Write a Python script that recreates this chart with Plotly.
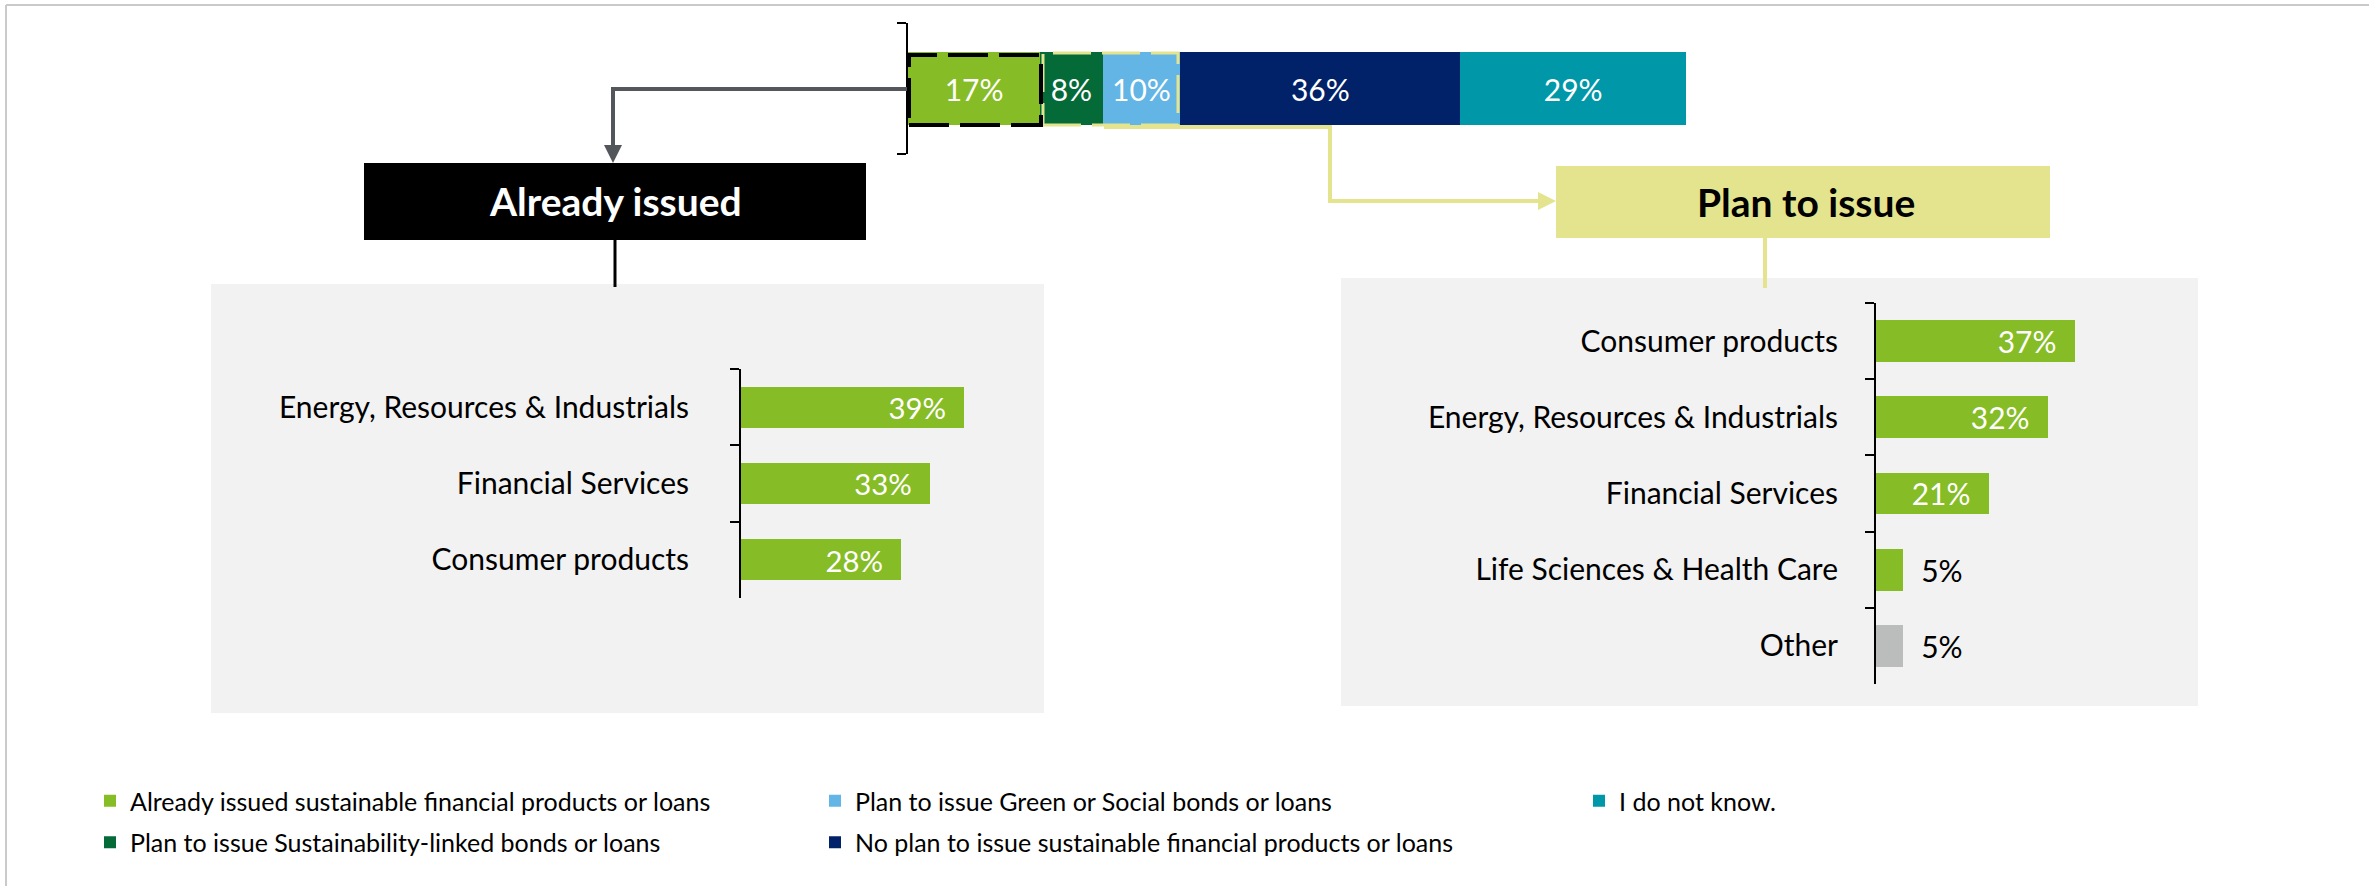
import plotly.graph_objects as go

W, H = 2369, 886

# top stacked bar: all respondents
segment_names = [
    "Already issued sustainable financial products or loans",
    "Plan to issue Sustainability-linked bonds or loans",
    "Plan to issue Green or Social bonds or loans",
    "No plan to issue sustainable financial products or loans",
    "I do not know.",
]
segment_values = [17, 8, 10, 36, 29]

# sectors of those who already issued
issued_sectors = ["Energy, Resources & Industrials", "Financial Services", "Consumer products"]
issued_values = [39, 33, 28]

# sectors of those who plan to issue
plan_sectors = ["Consumer products", "Energy, Resources & Industrials", "Financial Services",
                "Life Sciences & Health Care", "Other"]
plan_values = [37, 32, 21, 5, 5]

GREEN = "#86BC25"
segment_colors = [GREEN, "#046A38", "#62B5E5", "#012169", "#0097A9"]
segment_legends = ["legend", "legend", "legend2", "legend2", "legend3"]
OTHER_GRAY = "#BBBCBC"
PANEL = "#F2F2F2"
YELLOW = "#E3E48D"
ARROW_GRAY = "#53565A"
FONT = "Lato, Carlito, Calibri, sans-serif"
LABEL_SIZE = 30


def px(x):
    return x / W


def py(y):
    return 1 - y / H


def path(points):
    return "M " + " L ".join(f"{px(x)},{py(y)}" for x, y in points)


def bar_text(values):
    templates = []
    positions = []
    for v in values:
        if v >= 10:
            templates.append("%{x}%\u00a0\u00a0")
            positions.append("inside")
        else:
            templates.append("\u00a0\u00a0%{x}%")
            positions.append("outside")
    return templates, positions


fig = go.Figure()

for name, val, color, leg in zip(segment_names, segment_values, segment_colors, segment_legends):
    fig.add_trace(go.Bar(
        x=[val], y=["All"], orientation="h", name=name,
        marker=dict(color=color, line=dict(width=0)), width=0.55,
        text=[f"{val}%"], textposition="inside", insidetextanchor="middle",
        textfont=dict(color="white", size=LABEL_SIZE, family=FONT),
        xaxis="x", yaxis="y", legend=leg, legendgroup=name,
        hovertemplate=name + ": %{x}%<extra></extra>",
    ))

tpl, pos = bar_text(issued_values)
fig.add_trace(go.Bar(
    x=issued_values, y=issued_sectors, orientation="h", width=0.54,
    marker=dict(color=GREEN, line=dict(width=0)),
    texttemplate=tpl, textposition=pos, insidetextanchor="end",
    insidetextfont=dict(color="white", size=LABEL_SIZE, family=FONT),
    outsidetextfont=dict(color="black", size=LABEL_SIZE, family=FONT),
    xaxis="x2", yaxis="y2", showlegend=False, cliponaxis=False,
    hovertemplate="%{y}: %{x}%<extra>Already issued</extra>",
))

tpl, pos = bar_text(plan_values)
fig.add_trace(go.Bar(
    x=plan_values, y=plan_sectors, orientation="h", width=0.55,
    marker=dict(color=[OTHER_GRAY if s == "Other" else GREEN for s in plan_sectors], line=dict(width=0)),
    texttemplate=tpl, textposition=pos, insidetextanchor="end",
    insidetextfont=dict(color="white", size=LABEL_SIZE, family=FONT),
    outsidetextfont=dict(color="black", size=LABEL_SIZE, family=FONT),
    xaxis="x3", yaxis="y3", showlegend=False, cliponaxis=False,
    hovertemplate="%{y}: %{x}%<extra>Plan to issue</extra>",
))

bracket = dict(type="category", showline=True, linecolor="black", linewidth=2,
               ticks="outside", tickson="boundaries", ticklen=9, tickwidth=2, tickcolor="black",
               showgrid=False, zeroline=False, fixedrange=True,
               tickfont=dict(size=LABEL_SIZE, color="black", family=FONT))

fig.update_layout(
    width=W, height=H, margin=dict(l=0, r=0, t=0, b=0),
    paper_bgcolor="white", plot_bgcolor="rgba(0,0,0,0)",
    barmode="stack", font=dict(family=FONT, color="black"),
    xaxis=dict(domain=[px(908), px(1686)], range=[0, 100], visible=False, anchor="y", fixedrange=True),
    yaxis=dict(bracket, domain=[py(154), py(23)], range=[-0.5, 0.5], showticklabels=False, anchor="x"),
    xaxis2=dict(domain=[px(741), px(1027)], range=[0, 50], visible=False, anchor="y2", fixedrange=True),
    yaxis2=dict(bracket, domain=[py(598), py(369)], range=[2.5, -0.5],
                categoryarray=issued_sectors, ticklabelstandoff=44, anchor="x2"),
    xaxis3=dict(domain=[px(1876), px(2144.5)], range=[0, 50], visible=False, anchor="y3", fixedrange=True),
    yaxis3=dict(bracket, domain=[py(684), py(303)], range=[4.5, -0.5],
                categoryarray=plan_sectors, ticklabelstandoff=30, anchor="x3"),
    showlegend=True,
)

legend_style = dict(xanchor="left", yanchor="top", y=py(778), bgcolor="rgba(0,0,0,0)",
                    font=dict(size=25, family=FONT, color="black"), tracegroupgap=6,
                    traceorder="grouped")
fig.update_layout(
    legend=dict(legend_style, x=px(90)),
    legend2=dict(legend_style, x=px(815)),
    legend3=dict(legend_style, x=px(1579)),
)

P = dict(xref="paper", yref="paper")
shapes = [
    # frame lines
    dict(P, type="line", x0=px(6), x1=1, y0=py(5), y1=py(5), line=dict(color="#CACACA", width=2)),
    dict(P, type="line", x0=px(6), x1=px(6), y0=py(5), y1=0, line=dict(color="#CACACA", width=2)),
    # panels
    dict(P, type="rect", x0=px(211), x1=px(1044), y0=py(713), y1=py(284), fillcolor=PANEL,
         line=dict(width=0), layer="below"),
    dict(P, type="rect", x0=px(1341), x1=px(2198), y0=py(706), y1=py(278), fillcolor=PANEL,
         line=dict(width=0), layer="below"),
    # header boxes
    dict(P, type="rect", x0=px(364), x1=px(866), y0=py(240), y1=py(163), fillcolor="black", line=dict(width=0)),
    dict(P, type="rect", x0=px(1556), x1=px(2050), y0=py(238), y1=py(166), fillcolor=YELLOW, line=dict(width=0)),
    # connectors into panels
    dict(P, type="line", x0=px(615), x1=px(615), y0=py(240), y1=py(287), line=dict(color="black", width=3)),
    dict(P, type="line", x0=px(1765), x1=px(1765), y0=py(238), y1=py(288), line=dict(color=YELLOW, width=4)),
    # arrow bodies
    dict(P, type="path", path=path([(908, 89), (613, 89), (613, 152)]), line=dict(color=ARROW_GRAY, width=4)),
    dict(P, type="path", path=path([(1104, 127), (1330, 127), (1330, 201), (1543, 201)]),
         line=dict(color=YELLOW, width=4)),
    # dashed highlight boxes on the top bar
    dict(P, type="rect", x0=px(1043), x1=px(1178), y0=py(125), y1=py(53),
         line=dict(color=YELLOW, width=3, dash="38px,11px")),
    dict(P, type="rect", x0=px(909), x1=px(1041), y0=py(125), y1=py(55),
         line=dict(color="black", width=4, dash="40px,11px")),
]
fig.update_layout(shapes=shapes)

fig.add_annotation(P, x=px(615), y=py(201), xanchor="center", yanchor="middle", showarrow=False,
                   text="<b>Already issued</b>", font=dict(size=39, color="white", family=FONT))
fig.add_annotation(P, x=px(1806), y=py(202), xanchor="center", yanchor="middle", showarrow=False,
                   text="<b>Plan to issue</b>", font=dict(size=39, color="black", family=FONT))
fig.add_annotation(P, x=px(613), y=py(163), text="", showarrow=True,
                   ax=0, ay=-16, arrowhead=2, arrowsize=0.9, arrowwidth=4, arrowcolor=ARROW_GRAY)
fig.add_annotation(P, x=px(1556), y=py(201), text="", showarrow=True,
                   ax=-16, ay=0, arrowhead=2, arrowsize=0.9, arrowwidth=4, arrowcolor=YELLOW)

fig.write_html("out.html", config={"displayModeBar": False},
               post_script="document.body.style.margin='0';")
